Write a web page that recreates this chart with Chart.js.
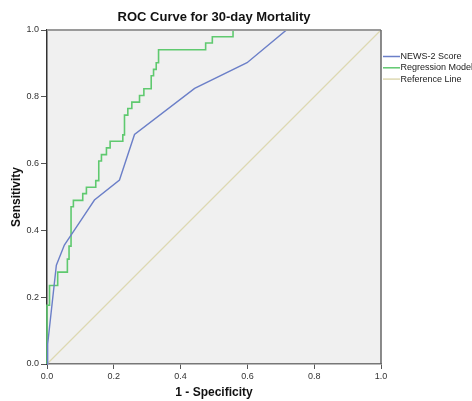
<!DOCTYPE html>
<html>
<head>
<meta charset="utf-8">
<script src="https://cdn.jsdelivr.net/npm/chart.js@4.4.1/dist/chart.umd.min.js"></script>
<style>
  html, body { margin: 0; padding: 0; background: #fff; }
  #wrap { width: 472px; height: 401px; }
</style>
</head>
<body>
<div id="wrap"><canvas id="roc" width="472" height="401"></canvas></div>
<script>
// ROC points (1 - specificity, sensitivity)
const newsX = [0, 0.002, 0.028, 0.052, 0.102, 0.142, 0.217, 0.262, 0.442, 0.599, 0.717, 1];
const newsY = [0, 0.06, 0.296, 0.356, 0.431, 0.491, 0.551, 0.687, 0.825, 0.902, 1, 1];

const regX = [0, 0, 0.0075, 0.0075, 0.032, 0.032, 0.061, 0.061, 0.066, 0.066, 0.072, 0.072,
  0.079, 0.079, 0.107, 0.107, 0.118, 0.118, 0.146, 0.146, 0.155, 0.155, 0.163, 0.163,
  0.178, 0.178, 0.189, 0.189, 0.227, 0.227, 0.232, 0.232, 0.242, 0.242, 0.254, 0.254,
  0.277, 0.277, 0.290, 0.290, 0.312, 0.312, 0.319, 0.319, 0.327, 0.327, 0.334, 0.334,
  0.475, 0.475, 0.495, 0.495, 0.557, 0.557, 1];
const regY = [0, 0.176, 0.176, 0.235, 0.235, 0.275, 0.275, 0.314, 0.314, 0.353, 0.353, 0.471,
  0.471, 0.490, 0.490, 0.510, 0.510, 0.529, 0.529, 0.549, 0.549, 0.608, 0.608, 0.627,
  0.627, 0.647, 0.647, 0.667, 0.667, 0.686, 0.686, 0.745, 0.745, 0.765, 0.765, 0.784,
  0.784, 0.804, 0.804, 0.824, 0.824, 0.863, 0.863, 0.882, 0.882, 0.902, 0.902, 0.941,
  0.941, 0.961, 0.961, 0.980, 0.980, 1, 1];

const refX = [0, 1];
const refY = [0, 1];

const axisTicks = [0, 0.2, 0.4, 0.6, 0.8, 1.0];
const seriesNames = ['NEWS-2 Score', 'Regression Model', 'Reference Line'];
const seriesColors = ['#6b7fc8', '#5fc96f', '#ddd8b2'];

const FONT = "'Liberation Sans', Arial, sans-serif";

function pts(xs, ys) {
  return xs.map((x, i) => ({ x: x, y: ys[i] }));
}

// plot background, frame, title and legend
const decor = {
  id: 'decor',
  beforeDraw(chart) {
    const { ctx, chartArea: a } = chart;
    ctx.save();
    ctx.fillStyle = '#f0f0f0';
    ctx.fillRect(a.left, a.top, a.right - a.left, a.bottom - a.top);
    ctx.restore();
  },
  afterDraw(chart) {
    const { ctx, chartArea: a } = chart;
    ctx.save();
    // top and right edges of the frame
    ctx.strokeStyle = '#9a9a9a';
    ctx.lineWidth = 2;
    ctx.beginPath();
    ctx.moveTo(a.left, a.top);
    ctx.lineTo(a.right, a.top);
    ctx.stroke();
    ctx.strokeStyle = '#666';
    ctx.lineWidth = 1.5;
    ctx.beginPath();
    ctx.moveTo(a.right, a.top);
    ctx.lineTo(a.right, a.bottom);
    ctx.stroke();

    // title centred over the plot
    ctx.fillStyle = '#111';
    ctx.font = 'bold 13px ' + FONT;
    ctx.textAlign = 'center';
    ctx.textBaseline = 'middle';
    ctx.fillText('ROC Curve for 30-day Mortality', (a.left + a.right) / 2, 17);

    // legend
    ctx.font = '9px ' + FONT;
    ctx.textAlign = 'left';
    chart.data.datasets.forEach((ds, i) => {
      const y = 56.5 + i * 11.3;
      ctx.strokeStyle = ds.borderColor;
      ctx.lineWidth = 1.5;
      ctx.beginPath();
      ctx.moveTo(383, y);
      ctx.lineTo(400, y);
      ctx.stroke();
      ctx.fillStyle = '#222';
      ctx.fillText(ds.label, 400.5, y);
    });
    ctx.restore();
  }
};

const tickFont = { family: FONT, size: 9 };

new Chart(document.getElementById('roc'), {
  type: 'line',
  data: {
    datasets: [
      { label: seriesNames[0], data: pts(newsX, newsY), borderColor: seriesColors[0], borderWidth: 1.4 },
      { label: seriesNames[1], data: pts(regX, regY), borderColor: seriesColors[1], borderWidth: 1.6 },
      { label: seriesNames[2], data: pts(refX, refY), borderColor: seriesColors[2], borderWidth: 1.2 }
    ].map(d => Object.assign(d, { pointRadius: 0, fill: false, tension: 0, clip: 3 }))
  },
  options: {
    responsive: false,
    animation: false,
    layout: { padding: { top: 30, right: 91, bottom: 0, left: 0 } },
    plugins: {
      legend: { display: false },
      title: { display: false },
      tooltip: { enabled: false }
    },
    scales: {
      x: {
        type: 'linear',
        min: 0,
        max: 1,
        afterFit(s) { s.height = 37; },
        afterBuildTicks(s) { s.ticks = axisTicks.map(v => ({ value: v })); },
        ticks: { font: tickFont, color: '#333', padding: 2, callback: v => v.toFixed(1), maxRotation: 0 },
        grid: { drawOnChartArea: false, drawTicks: true, tickLength: 5, color: '#555' },
        border: { display: true, color: '#777', width: 1.5 },
        title: { display: true, text: '1 - Specificity', color: '#111',
                 font: { family: FONT, size: 12, weight: 'bold' }, padding: { top: 0, bottom: 1 } }
      },
      y: {
        type: 'linear',
        min: 0,
        max: 1,
        afterFit(s) { s.width = 47; },
        afterBuildTicks(s) { s.ticks = axisTicks.map(v => ({ value: v })); },
        ticks: { font: tickFont, color: '#333', padding: 2, callback: v => v.toFixed(1) },
        grid: { drawOnChartArea: false, drawTicks: true, tickLength: 6, color: '#555' },
        border: { display: true, color: '#333', width: 1.5 },
        title: { display: true, text: 'Sensitivity', color: '#111',
                 font: { family: FONT, size: 12, weight: 'bold' }, padding: { top: 9, bottom: 0 } }
      }
    }
  },
  plugins: [decor]
});
</script>
</body>
</html>
